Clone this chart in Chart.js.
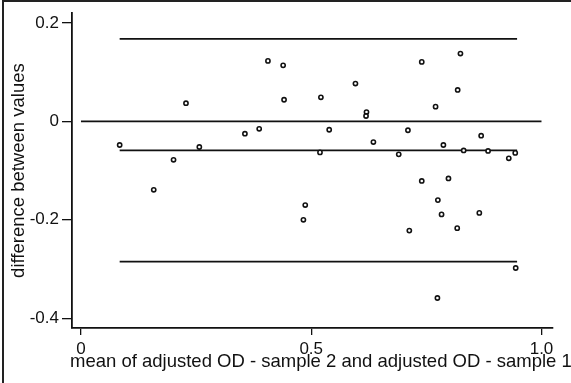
<!DOCTYPE html>
<html>
<head>
<meta charset="utf-8">
<script src="https://cdn.jsdelivr.net/npm/chart.js@4.4.1/dist/chart.umd.min.js"></script>
<style>
    html, body { margin: 0; padding: 0; background: #fff; }
    #wrap { position: relative; width: 571px; height: 383px; }
</style>
</head>
<body>
<div id="wrap"><canvas id="blandChart" width="571" height="383"></canvas></div>
<script>
// mean of the two samples (x) and their difference (y)
const meanOD = [0.084, 0.158, 0.201, 0.228, 0.257, 0.356, 0.387, 0.406, 0.439, 0.441,
                0.483, 0.487, 0.519, 0.521, 0.539, 0.596, 0.620, 0.619, 0.635, 0.690,
                0.710, 0.713, 0.740, 0.740, 0.770, 0.775, 0.783, 0.787, 0.798, 0.774,
                0.817, 0.818, 0.824, 0.831, 0.865, 0.869, 0.884, 0.929, 0.943, 0.944];
const diffOD = [-0.048, -0.139, -0.078, 0.037, -0.052, -0.025, -0.015, 0.123, 0.114, 0.044,
                -0.200, -0.170, -0.063, 0.049, -0.017, 0.077, 0.019, 0.011, -0.042, -0.067,
                -0.018, -0.222, 0.121, -0.121, 0.030, -0.160, -0.189, -0.048, -0.116, -0.359,
                -0.217, 0.064, 0.138, -0.059, -0.186, -0.029, -0.060, -0.075, -0.064, -0.298];

// reference lines: upper limit, zero, mean difference, lower limit
const lineLevels = [0.168, 0, -0.059, -0.285];
const lineFrom   = [0.084, 0, 0.084, 0.084];
const lineTo     = [0.947, 1.0, 0.947, 0.947];

// axis ticks
const xTicks = [0, 0.5, 1.0];
const xTickLabels = ['0', '0.5', '1.0'];
const yTicks = [-0.4, -0.2, 0, 0.2];
const yTickLabels = ['-0.4', '-0.2', '0', '0.2'];

const xTitle = 'mean of adjusted OD - sample 2 and adjusted OD - sample 1';
const yTitle = 'difference between values';

const FONT = '"Liberation Sans", Arial, sans-serif';

const datasets = [{
    type: 'scatter',
    data: meanOD.map((x, i) => ({ x: x, y: diffOD[i] })),
    pointStyle: 'circle',
    pointRadius: 2.1,
    borderWidth: 1.6,
    borderColor: '#111',
    backgroundColor: '#fff',
    order: 0
}];
lineLevels.forEach((lvl, i) => {
    datasets.push({
        type: 'line',
        data: [{ x: lineFrom[i], y: lvl }, { x: lineTo[i], y: lvl }],
        borderColor: '#111',
        borderWidth: 1.8,
        pointRadius: 0,
        fill: false,
        order: 1
    });
});

// frame round the figure (top and left edge, as in the scan) and the x title,
// which runs past the plot's right edge and would be squeezed by the scale title
const framePlugin = {
    id: 'frame',
    afterDraw(chart) {
        const ctx = chart.ctx;
        ctx.save();
        ctx.strokeStyle = '#222';
        ctx.lineWidth = 2;
        ctx.beginPath();
        ctx.moveTo(3, 383);
        ctx.lineTo(3, 1);
        ctx.lineTo(571, 1);
        ctx.stroke();

        ctx.fillStyle = '#111';
        ctx.font = '18.5px ' + FONT;
        ctx.textAlign = 'left';
        ctx.textBaseline = 'alphabetic';
        ctx.fillText(xTitle, chart.chartArea.left - 2, 367);
        ctx.restore();
    }
};

new Chart(document.getElementById('blandChart'), {
    type: 'scatter',
    data: { datasets: datasets },
    plugins: [framePlugin],
    options: {
        responsive: false,
        animation: false,
        layout: { padding: { top: 10, right: 18, left: 0, bottom: 0 } },
        plugins: {
            legend: { display: false },
            tooltip: { enabled: false }
        },
        scales: {
            x: {
                type: 'linear',
                min: -0.0195,
                max: 1.025,
                afterBuildTicks: s => { s.ticks = xTicks.map(v => ({ value: v })); },
                afterFit: s => { s.height = 55; },
                grid: { drawOnChartArea: false, drawTicks: true, tickLength: 7, color: '#111', lineWidth: 1.3 },
                border: { display: true, color: '#111', width: 1.8 },
                ticks: {
                    color: '#111',
                    padding: 4,
                    maxRotation: 0,
                    font: { family: FONT, size: 17 },
                    callback: (v) => xTickLabels[xTicks.indexOf(v)]
                }
            },
            y: {
                type: 'linear',
                min: -0.42,
                max: 0.22,
                afterBuildTicks: s => { s.ticks = yTicks.map(v => ({ value: v })); },
                afterFit: s => { s.width = 72; },
                grid: { drawOnChartArea: false, drawTicks: true, tickLength: 10, color: '#111', lineWidth: 1.3 },
                border: { display: true, color: '#111', width: 1.8 },
                ticks: {
                    color: '#111',
                    padding: 3,
                    font: { family: FONT, size: 17 },
                    callback: (v) => yTickLabels[yTicks.indexOf(v)]
                },
                title: {
                    display: true,
                    text: yTitle,
                    color: '#111',
                    font: { family: FONT, size: 18.5 },
                    padding: { top: 7.5, bottom: 0 }
                }
            }
        }
    }
});
</script>
</body>
</html>
